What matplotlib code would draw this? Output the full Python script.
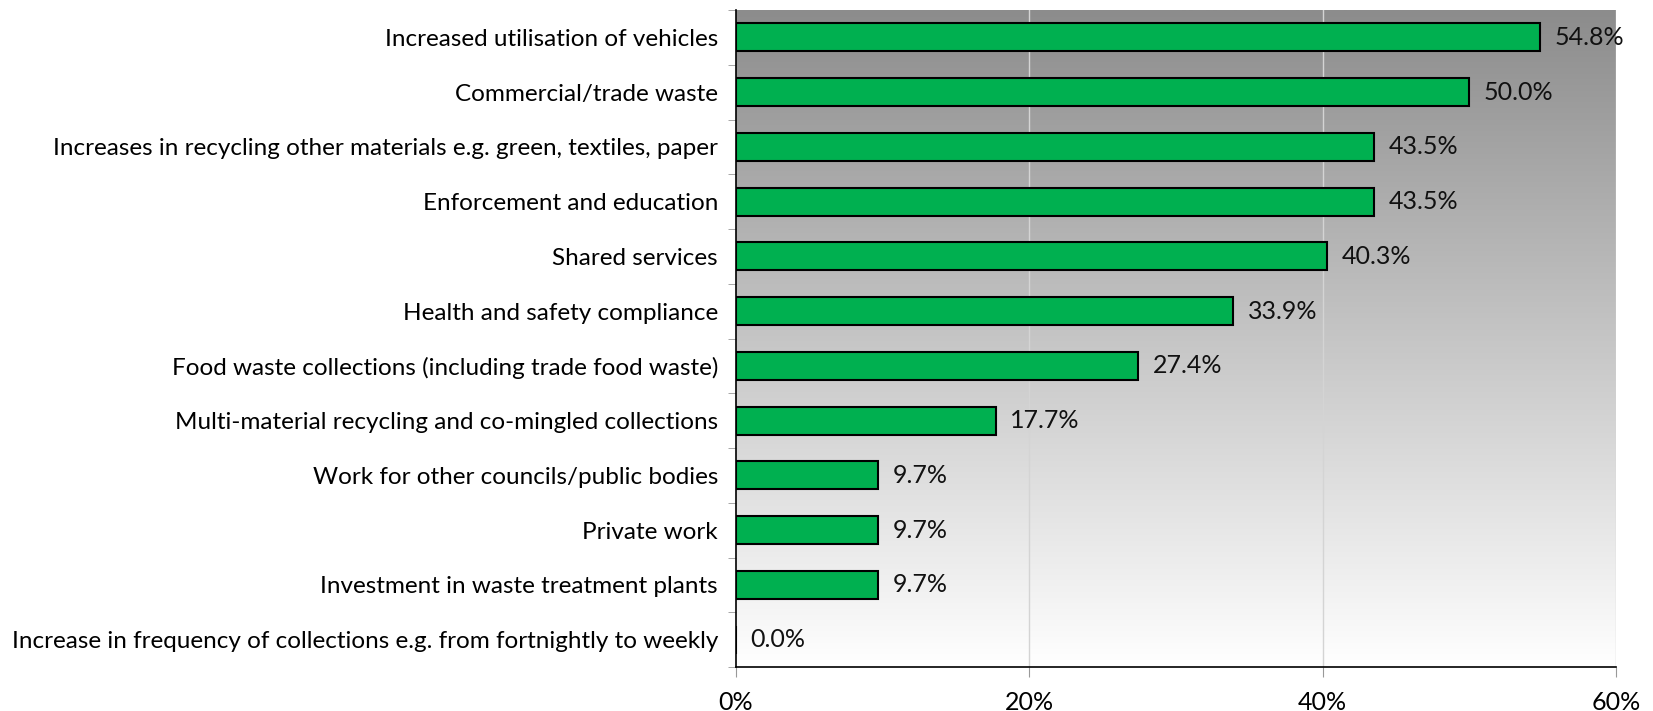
import matplotlib
matplotlib.use("Agg")
import matplotlib.pyplot as plt
import numpy as np

plt.rcParams['font.family'] = ['Lato', 'DejaVu Sans']

categories = [
    "Increased utilisation of vehicles",
    "Commercial/trade waste",
    "Increases in recycling other materials e.g. green, textiles, paper",
    "Enforcement and education",
    "Shared services",
    "Health and safety compliance",
    "Food waste collections (including trade food waste)",
    "Multi-material recycling and co-mingled collections",
    "Work for other councils/public bodies",
    "Private work",
    "Investment in waste treatment plants",
    "Increase in frequency of collections e.g. from fortnightly to weekly",
]
values = [54.8, 50.0, 43.5, 43.5, 40.3, 33.9, 27.4, 17.7, 9.7, 9.7, 9.7, 0.0]
xticks = [0, 20, 40, 60]

fig = plt.figure(figsize=(16.53, 7.11), dpi=100)
ax = fig.add_axes([736/1653, 1 - 667/711, (1616-736)/1653, (667-10)/711])

n = len(categories)
ypos = np.arange(n)

# vertical grey-to-white gradient behind the bars
grad = np.linspace(0, 1, 256).reshape(-1, 1)
ax.imshow(grad, extent=[0, 60, n - 0.5, -0.5], aspect='auto',
          cmap=matplotlib.colors.LinearSegmentedColormap.from_list(
              'bg', ['#8c8c8c', '#ffffff']), zorder=0)

for x in xticks[1:]:
    ax.axvline(x, color='#d4d4d4', linewidth=1, zorder=1)

ax.barh(ypos, values, height=0.51, color='#00b050', edgecolor='black',
        linewidth=1.5, zorder=2)

for y, v in zip(ypos, values):
    ax.text(v + 1.0, y, f"{v:.1f}%", va='center', ha='left', fontsize=18,
            color='#111111', zorder=3)

ax.set_xlim(0, 60)
ax.set_ylim(n - 0.5, -0.5)
ax.set_xticks(xticks)
ax.set_xticklabels([f"{x}%" for x in xticks], fontsize=18)
ax.set_yticks(ypos)
ax.set_yticklabels(categories, fontsize=17.5)
ax.set_yticks(np.arange(n + 1) - 0.5, minor=True)
ax.tick_params(axis='y', which='major', length=0, pad=13)
ax.tick_params(axis='y', which='minor', length=6, color='#999999')
ax.tick_params(axis='x', length=7, color='#999999', pad=10)

for s in ['top', 'right']:
    ax.spines[s].set_visible(False)
ax.spines['left'].set_linewidth(1.2)
ax.spines['bottom'].set_linewidth(1.2)

fig.savefig("out.png", dpi=100)
